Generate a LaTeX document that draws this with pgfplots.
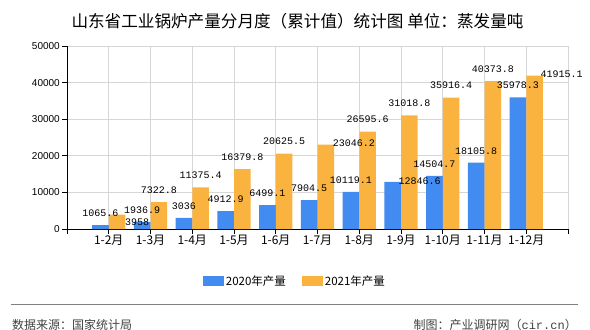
\documentclass[border=0pt]{standalone}
\usepackage{fontspec}
\usepackage{pgfplots}
\usepackage{pgfplotstable}
\pgfplotsset{compat=1.18}
\setmainfont{Noto Sans CJK SC}
\newfontfamily\arialfont{Liberation Sans}
\newfontfamily\monofont{Liberation Mono}
\definecolor{c1}{RGB}{66,139,240}
\definecolor{c2}{RGB}{251,179,64}
\definecolor{gridc}{RGB}{214,214,214}
\pgfplotstableread{
x a la adx ady b lb bdx bdy
0 1065.6 1065.6 0 0 3958 3958 20 -20
1 1936.9 1936.9 0 0 7322.8 7322.8 0 0
2 3036 3036 0 0 11375.4 11375.4 0 0
3 4912.9 4912.9 0 0 16379.8 16379.8 0 0
4 6499.1 6499.1 0 0 20625.5 20625.5 0 0
5 7904.5 7904.5 0 0 23046.2 23046.2 28 -11
6 10119.1 10119.1 0 0 26595.6 26595.6 0 0
7 12846.6 12846.6 27 -11 31018.8 31018.8 0 0
8 14504.7 14504.7 0 0 35916.4 35916.4 0 0
9 18105.8 18105.8 0 0 40373.8 40373.8 0 0
10 35978.3 35978.3 0 0 41915.1 41915.1 27 -11
}\data
\begin{document}
\begin{tikzpicture}
\path[use as bounding box] (0,0) rectangle (590bp,330bp);
\begin{axis}[
  at={(67bp,101bp)}, anchor=south west,
  scale only axis, width=501bp, height=183bp,
  xmin=-1, xmax=11, ymin=0, ymax=50000,
  axis lines=left, axis line style={-, black},
  /pgf/number format/assume math mode=true,
  /pgf/number format/1000 sep={},
  scaled y ticks=false,
  ytick={0,10000,...,50000},
  xtick={-1,0,...,11},
  xticklabels={{},1-2月,1-3月,1-4月,1-5月,1-6月,1-7月,1-8月,1-9月,1-10月,1-11月,1-12月,{}},
  tick align=outside,
  major tick length=5bp,
  tick style={black, line width=0.8bp},
  grid=major, grid style={draw=gridc, line width=0.8bp},
  yticklabel style={font=\arialfont\fontsize{10bp}{12bp}\selectfont, inner sep=2bp},
  xticklabel style={font=\fontsize{12bp}{14bp}\selectfont, inner sep=1bp},
  ybar=0pt, bar width=16.6bp,
  clip=false,
  legend columns=2,
  legend style={at={(0.455,-0.284)}, anchor=center, draw=none, fill=none,
    font=\fontsize{11.5bp}{13bp}\selectfont,
    /tikz/every even column/.append style={column sep=14bp}},
]
\addplot[fill=c1, draw=none,
  visualization depends on={\thisrow{adx} \as \dx},
  visualization depends on={\thisrow{ady} \as \dy},
  point meta=explicit symbolic,
  nodes near coords,
  every node near coord/.append style={font=\monofont\fontsize{10bp}{12bp}\selectfont, text=black, anchor=center, inner sep=0pt, xshift=\dx bp, yshift=12bp, yshift=\dy bp},
  legend image code/.code={\fill[c1] (0bp,-5bp) rectangle (21bp,5bp);}
] table[x=x, y=a, meta=la] {\data};
\addlegendentry{2020年产量}
\addplot[fill=c2, draw=none,
  visualization depends on={\thisrow{bdx} \as \dx},
  visualization depends on={\thisrow{bdy} \as \dy},
  point meta=explicit symbolic,
  nodes near coords,
  every node near coord/.append style={font=\monofont\fontsize{10bp}{12bp}\selectfont, text=black, anchor=center, inner sep=0pt, xshift=\dx bp, yshift=12bp, yshift=\dy bp},
  legend image code/.code={\fill[c2] (0bp,-5bp) rectangle (21bp,5bp);}
] table[x=x, y=b, meta=lb] {\data};
\addlegendentry{2021年产量}
\end{axis}
\node[font=\fontsize{16.6bp}{19bp}\selectfont, inner sep=0pt] at (297.5bp,309bp) {山东省工业锅炉产量分月度（累计值）统计图 单位：蒸发量吨};
\draw[draw={rgb,255:red,128;green,128;blue,128}, line width=1bp] (10.7bp,25bp) -- (577.5bp,25bp);
\node[font=\fontsize{12bp}{14bp}\selectfont, text={rgb,255:red,64;green,64;blue,64}, anchor=west, inner sep=0pt] at (12bp,5.5bp) {数据来源：国家统计局};
\node[font=\fontsize{12bp}{14bp}\selectfont, text={rgb,255:red,64;green,64;blue,64}, anchor=east, inner sep=0pt] at (577bp,5.5bp) {制图：产业调研网（{\monofont cir.cn}）};
\end{tikzpicture}
\end{document}
